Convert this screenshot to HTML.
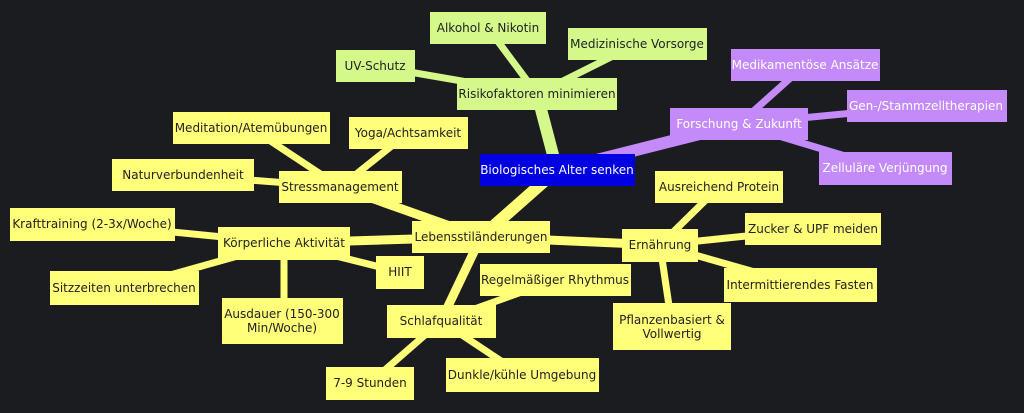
<!DOCTYPE html>
<html><head><meta charset="utf-8"><style>
body{margin:0;background:#1b1c1f;}
svg{display:block}
text{font-family:"DejaVu Sans","Liberation Sans",sans-serif;font-size:12px;text-anchor:middle;dominant-baseline:central}
</style></head><body>
<svg width="1024" height="413" xmlns="http://www.w3.org/2000/svg">
<rect width="1024" height="413" fill="#1b1c1f"/>
<g stroke-linecap="butt">
<g stroke="#d4f98a">
<line x1="557" y1="170" x2="537" y2="94" stroke-width="12"/>
<line x1="537" y1="94" x2="488" y2="28" stroke-width="7"/>
<line x1="537" y1="94" x2="637" y2="44" stroke-width="7"/>
<line x1="537" y1="94" x2="375" y2="66" stroke-width="7"/>
</g>
<g stroke="#c58af9">
<line x1="557" y1="170" x2="739" y2="124" stroke-width="12"/>
<line x1="739" y1="124" x2="805" y2="65" stroke-width="7"/>
<line x1="739" y1="124" x2="926" y2="106" stroke-width="7"/>
<line x1="739" y1="124" x2="885" y2="168" stroke-width="7"/>
</g>
<g stroke="#ffff7a">
<line x1="557" y1="170" x2="481" y2="237" stroke-width="12"/>
<line x1="481" y1="237" x2="340" y2="187" stroke-width="9"/>
<line x1="481" y1="237" x2="284" y2="243" stroke-width="9"/>
<line x1="481" y1="237" x2="441" y2="321" stroke-width="9"/>
<line x1="481" y1="237" x2="660" y2="245" stroke-width="9"/>
<line x1="340" y1="187" x2="251" y2="128" stroke-width="7"/>
<line x1="340" y1="187" x2="408" y2="133" stroke-width="7"/>
<line x1="340" y1="187" x2="183" y2="175" stroke-width="7"/>
<line x1="284" y1="243" x2="92" y2="224" stroke-width="7"/>
<line x1="284" y1="243" x2="124" y2="288" stroke-width="7"/>
<line x1="284" y1="243" x2="284" y2="321" stroke-width="7"/>
<line x1="284" y1="243" x2="400" y2="272" stroke-width="7"/>
<line x1="441" y1="321" x2="555" y2="280" stroke-width="7"/>
<line x1="441" y1="321" x2="370" y2="383" stroke-width="7"/>
<line x1="441" y1="321" x2="522" y2="375" stroke-width="7"/>
<line x1="660" y1="245" x2="719" y2="187" stroke-width="7"/>
<line x1="660" y1="245" x2="813" y2="229" stroke-width="7"/>
<line x1="660" y1="245" x2="800" y2="285" stroke-width="7"/>
<line x1="660" y1="245" x2="672" y2="326" stroke-width="7"/>
</g>
</g>
<g fill="#d4f98a">
<rect x="457" y="78" width="160" height="32"/><rect x="430" y="12" width="116" height="32"/>
<rect x="568" y="28" width="139" height="32"/><rect x="336" y="50" width="79" height="32"/>
</g>
<g fill="#c58af9">
<rect x="670" y="108" width="138" height="32"/><rect x="731" y="49" width="149" height="32"/>
<rect x="847" y="90" width="160" height="32"/><rect x="819" y="152" width="133" height="33"/>
</g>
<rect x="480" y="154" width="155" height="32" fill="#0000e0"/>
<g fill="#ffff7a">
<rect x="412" y="221" width="138" height="32"/><rect x="279" y="171" width="123" height="32"/>
<rect x="173" y="112" width="157" height="32"/><rect x="349" y="117" width="119" height="32"/>
<rect x="112" y="159" width="142" height="32"/><rect x="218" y="227" width="132" height="33"/>
<rect x="10" y="208" width="165" height="33"/><rect x="50" y="271" width="149" height="34"/>
<rect x="222" y="298" width="121" height="46"/><rect x="376" y="256" width="48" height="33"/>
<rect x="387" y="305" width="109" height="33"/><rect x="480" y="264" width="151" height="32"/>
<rect x="326" y="367" width="88" height="33"/><rect x="446" y="358" width="153" height="34"/>
<rect x="622" y="229" width="76" height="33"/><rect x="655" y="171" width="128" height="32"/>
<rect x="745" y="213" width="136" height="32"/><rect x="724" y="268" width="153" height="34"/>
<rect x="613" y="303" width="118" height="47"/>
</g>
<g fill="#222">
<text x="537" y="94">Risikofaktoren minimieren</text>
<text x="488" y="28">Alkohol &amp; Nikotin</text>
<text x="637" y="44">Medizinische Vorsorge</text>
<text x="375" y="66">UV-Schutz</text>
<text x="481" y="237">Lebensstiländerungen</text>
<text x="340" y="187">Stressmanagement</text>
<text x="251" y="128">Meditation/Atemübungen</text>
<text x="408" y="133">Yoga/Achtsamkeit</text>
<text x="183" y="175">Naturverbundenheit</text>
<text x="284" y="243">Körperliche Aktivität</text>
<text x="92" y="224">Krafttraining (2-3x/Woche)</text>
<text x="124" y="288">Sitzzeiten unterbrechen</text>
<text x="282" y="314">Ausdauer (150-300</text>
<text x="282" y="328">Min/Woche)</text>
<text x="400" y="272">HIIT</text>
<text x="441" y="321">Schlafqualität</text>
<text x="555" y="280">Regelmäßiger Rhythmus</text>
<text x="370" y="383">7-9 Stunden</text>
<text x="522" y="375">Dunkle/kühle Umgebung</text>
<text x="660" y="245">Ernährung</text>
<text x="719" y="187">Ausreichend Protein</text>
<text x="813" y="229">Zucker &amp; UPF meiden</text>
<text x="800" y="285">Intermittierendes Fasten</text>
<text x="672" y="320">Pflanzenbasiert &amp;</text>
<text x="672" y="334">Vollwertig</text>
</g>
<g fill="#fff">
<text x="557" y="170">Biologisches Alter senken</text>
<text x="739" y="124">Forschung &amp; Zukunft</text>
<text x="805" y="65">Medikamentöse Ansätze</text>
<text x="926" y="106">Gen-/Stammzelltherapien</text>
<text x="885" y="168">Zelluläre Verjüngung</text>
</g>
</svg>
</body></html>
